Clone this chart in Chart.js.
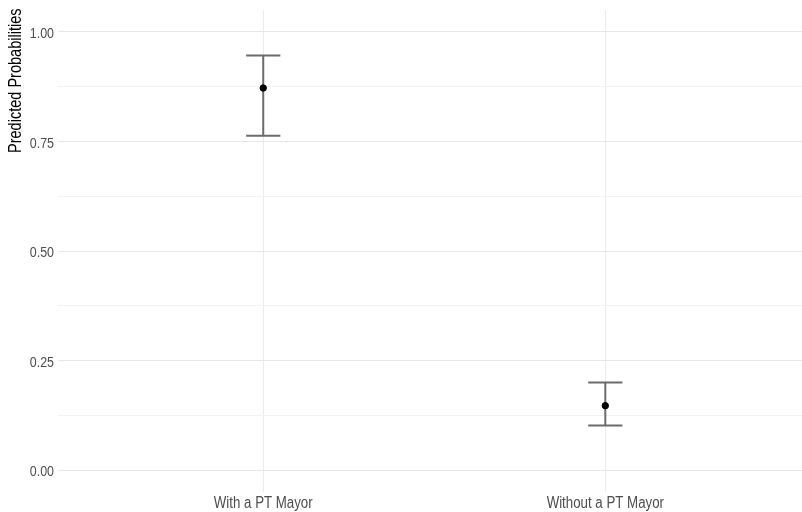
<!DOCTYPE html>
<html>
<head>
<meta charset="utf-8">
<script src="https://cdn.jsdelivr.net/npm/chart.js@4/dist/chart.umd.min.js"></script>
<style>
  html, body { margin: 0; padding: 0; background: #ffffff; }
  #wrap { width: 802px; height: 512px; }
</style>
</head>
<body>
<div id="wrap"><canvas id="c" width="802" height="512"></canvas></div>
<script>
// Predicted probabilities with confidence intervals
const categories = ["With a PT Mayor", "Without a PT Mayor"];
const estimates = [0.872, 0.147];
const lowerCI = [0.763, 0.102];
const upperCI = [0.946, 0.200];
const yTicks = [0, 0.125, 0.25, 0.375, 0.5, 0.625, 0.75, 0.875, 1.0];
const yLabelTicks = [0, 0.25, 0.5, 0.75, 1.0];
const yTitle = "Predicted Probabilities";

const FONT = 'Liberation Sans, Arial, sans-serif';
const NARROW = 0.83; // horizontal squeeze for a narrow-looking face
const points = estimates.map((v, i) => ({ x: i + 1, y: v }));

function narrowText(ctx, text, x, y, opts) {
  ctx.save();
  ctx.translate(x, y);
  if (opts.rotate) ctx.rotate(opts.rotate);
  ctx.scale(NARROW, 1);
  ctx.font = opts.font;
  ctx.fillStyle = opts.color;
  ctx.textAlign = opts.align;
  ctx.textBaseline = opts.baseline;
  ctx.fillText(text, 0, 0);
  ctx.restore();
}

// Draws vertical error bars with caps, underneath the points
const errorBars = {
  id: 'errorBars',
  beforeDatasetsDraw(chart) {
    const { ctx, scales: { x, y } } = chart;
    const capHalf = 0.05;
    ctx.save();
    ctx.strokeStyle = '#6b6b6b';
    ctx.lineWidth = 2;
    ctx.lineCap = 'butt';
    estimates.forEach((_, i) => {
      const cx = x.getPixelForValue(i + 1);
      const yl = y.getPixelForValue(lowerCI[i]);
      const yu = y.getPixelForValue(upperCI[i]);
      const xl = x.getPixelForValue(i + 1 - capHalf);
      const xr = x.getPixelForValue(i + 1 + capHalf);
      ctx.beginPath();
      ctx.moveTo(cx, yl); ctx.lineTo(cx, yu);
      ctx.moveTo(xl, yu); ctx.lineTo(xr, yu);
      ctx.moveTo(xl, yl); ctx.lineTo(xr, yl);
      ctx.stroke();
    });
    ctx.restore();
  }
};

// Axis labels and title in a narrow setting
const axisText = {
  id: 'axisText',
  afterDraw(chart) {
    const { ctx, scales: { x, y }, chartArea } = chart;
    yLabelTicks.forEach(v => {
      narrowText(ctx, v.toFixed(2), chartArea.left - 4, y.getPixelForValue(v) + 2, {
        font: '15px ' + FONT, color: '#4d4d4d', align: 'right', baseline: 'middle'
      });
    });
    categories.forEach((c, i) => {
      narrowText(ctx, c, x.getPixelForValue(i + 1), chartArea.bottom + 16, {
        font: '16px ' + FONT, color: '#4d4d4d', align: 'center', baseline: 'alphabetic'
      });
    });
    narrowText(ctx, yTitle, 21, 153, {
      font: '17.5px ' + FONT, color: '#000000', align: 'left', baseline: 'alphabetic',
      rotate: -Math.PI / 2
    });
  }
};

new Chart(document.getElementById('c'), {
  type: 'scatter',
  data: {
    datasets: [{
      data: points,
      backgroundColor: '#000000',
      borderColor: '#000000',
      pointRadius: 3.2,
      pointHoverRadius: 3.2
    }]
  },
  options: {
    responsive: false,
    animation: false,
    layout: { autoPadding: false, padding: { top: 10, right: 0, left: 0, bottom: 0 } },
    plugins: { legend: { display: false }, tooltip: { enabled: false } },
    scales: {
      x: {
        type: 'linear',
        min: 0.4,
        max: 2.575,
        afterBuildTicks(scale) {
          scale.ticks = categories.map((_, i) => ({ value: i + 1 }));
        },
        afterFit(scale) { scale.height = 20; },
        ticks: { display: false },
        grid: { color: '#ebebeb', lineWidth: 1, drawTicks: false },
        border: { display: false }
      },
      y: {
        min: -0.05,
        max: 1.05,
        afterBuildTicks(scale) {
          scale.ticks = yTicks.map(v => ({ value: v }));
        },
        afterFit(scale) { scale.width = 58; },
        ticks: { display: false },
        grid: {
          drawTicks: false,
          lineWidth: 1,
          color: (c) => {
            const v = c.tick ? c.tick.value : 0;
            return yLabelTicks.some(t => Math.abs(t - v) < 1e-6) ? '#e6e6e6' : '#f2f2f2';
          }
        },
        border: { display: false }
      }
    }
  },
  plugins: [errorBars, axisText]
});
</script>
</body>
</html>
